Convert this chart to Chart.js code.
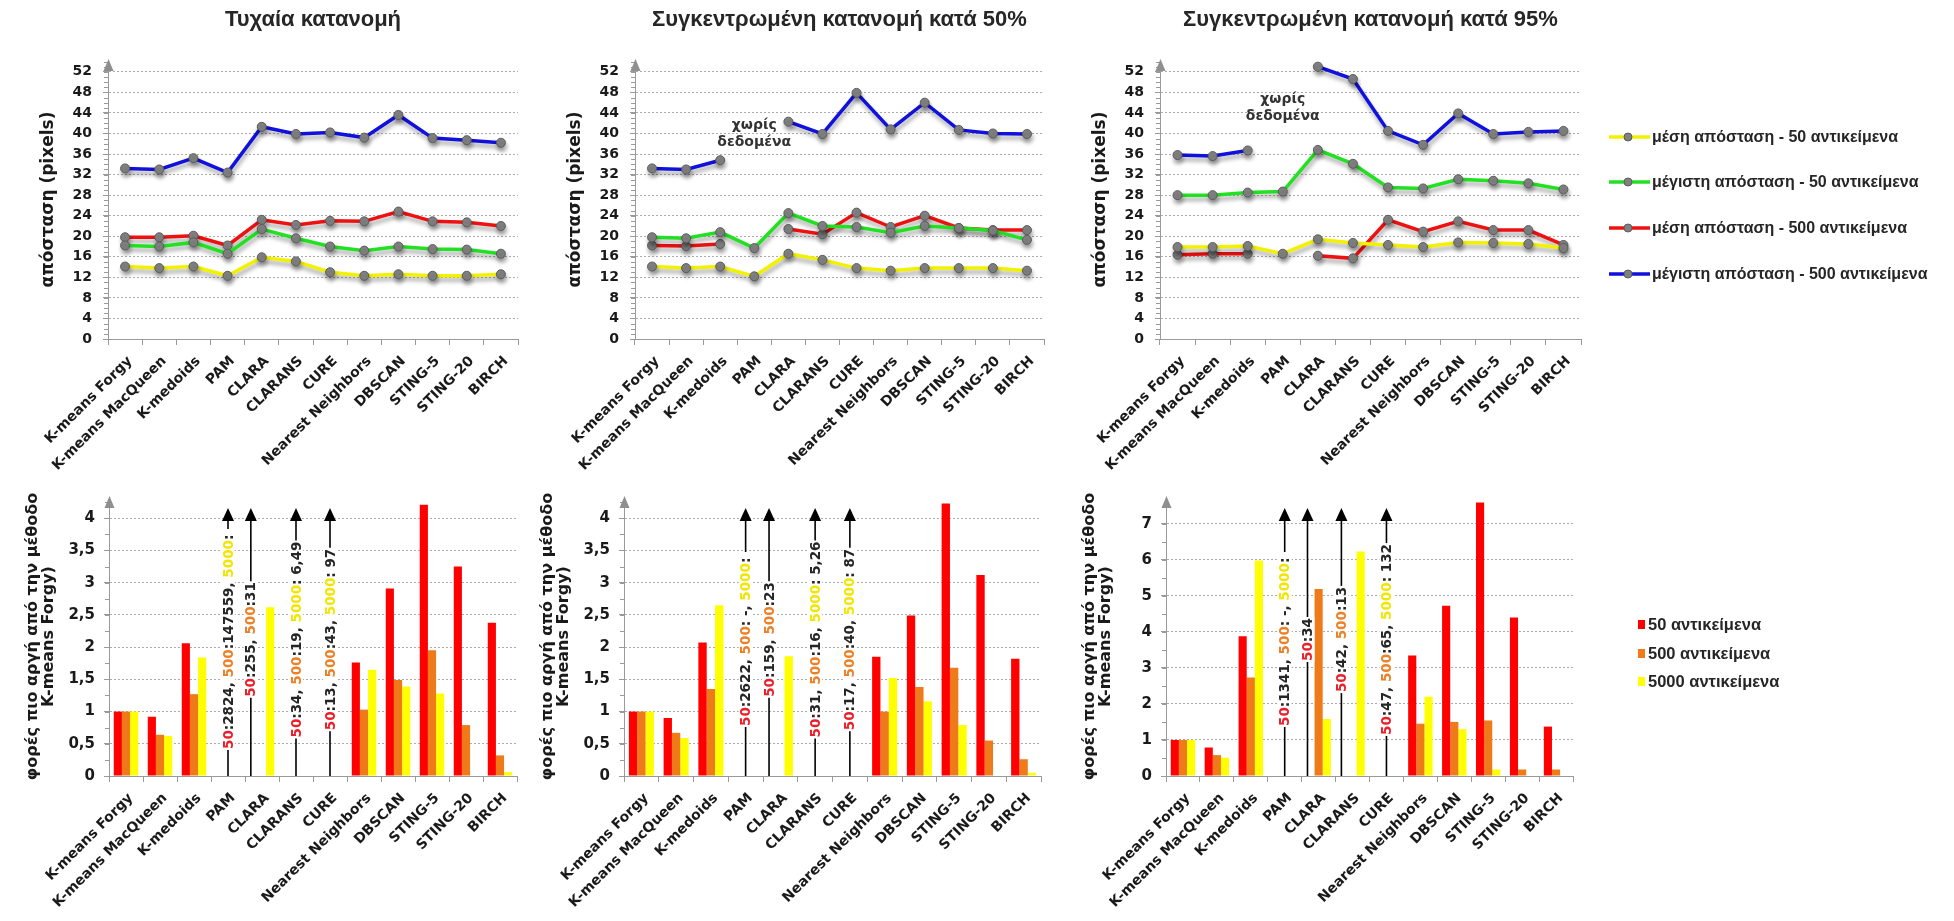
<!DOCTYPE html>
<html>
<head>
<meta charset="utf-8">
<script src="https://cdn.jsdelivr.net/npm/chart.js@4.4.1/dist/chart.umd.min.js"></script>
<style>
  html, body { margin: 0; padding: 0; background: #fff; width: 1954px; height: 921px; overflow: hidden; }
  canvas { position: absolute; }
</style>
</head>
<body>
<canvas id="distRandom"></canvas>
<canvas id="dist50"></canvas>
<canvas id="dist95"></canvas>
<canvas id="speedRandom"></canvas>
<canvas id="speed50"></canvas>
<canvas id="speed95"></canvas>
<script>
// ---------- categories and labels ----------
const methods = ['K-means Forgy', 'K-means MacQueen', 'K-medoids', 'PAM', 'CLARA', 'CLARANS', 'CURE',
  'Nearest Neighbors', 'DBSCAN', 'STING-5', 'STING-20', 'BIRCH'];
const titles = ['Τυχαία κατανομή', 'Συγκεντρωμένη κατανομή κατά 50%', 'Συγκεντρωμένη κατανομή κατά 95%'];
const lineNames = ['μέση απόσταση - 50 αντικείμενα', 'μέγιστη απόσταση - 50 αντικείμενα',
  'μέση απόσταση - 500 αντικείμενα', 'μέγιστη απόσταση - 500 αντικείμενα'];
const barNames = ['50 αντικείμενα', '500 αντικείμενα', '5000 αντικείμενα'];
const distanceAxisTitle = 'απόσταση (pixels)';
const ratioAxisTitle = ['φορές πιο αργή από την μέθοδο', 'K-means Forgy)'];
const noDataNote = ['χωρίς', 'δεδομένα'];

// ---------- tick labels ----------
const distanceTicks = [0, 4, 8, 12, 16, 20, 24, 28, 32, 36, 40, 44, 48, 52];
const ratioTicks = [0, 0.5, 1, 1.5, 2, 2.5, 3, 3.5, 4];
const ratioTicks95 = [0, 1, 2, 3, 4, 5, 6, 7];

// ---------- distances (pixels) ----------
const randMean50  = [14.1, 13.8, 14.1, 12.3, 15.9, 15.1, 13.0, 12.3, 12.6, 12.3, 12.3, 12.6];
const randMax50   = [18.2, 18.0, 18.8, 16.6, 21.4, 19.6, 18.0, 17.2, 18.0, 17.5, 17.4, 16.6];
const randMean500 = [19.8, 19.8, 20.1, 18.2, 23.2, 22.2, 23.0, 22.9, 24.8, 22.9, 22.7, 22.0];
const randMax500  = [33.2, 33.0, 35.2, 32.4, 41.3, 39.9, 40.2, 39.2, 43.6, 39.1, 38.7, 38.2];

const c50Mean50  = [14.1, 13.8, 14.1, 12.2, 16.6, 15.4, 13.8, 13.3, 13.8, 13.8, 13.8, 13.3];
const c50Max50   = [19.8, 19.6, 20.8, 17.7, 24.5, 22.0, 21.8, 20.7, 22.0, 21.6, 21.1, 19.3];
const c50Mean500 = [18.2, 18.1, 18.5, null, 21.4, 20.4, 24.6, 21.8, 24.0, 21.6, 21.2, 21.2];
const c50Max500  = [33.2, 33.0, 34.8, null, 42.3, 39.9, 47.9, 40.8, 46.0, 40.7, 40.0, 39.9];

const c95Mean50  = [17.9, 17.9, 18.1, 16.6, 19.4, 18.7, 18.3, 17.9, 18.8, 18.7, 18.5, 17.7];
const c95Max50   = [28.0, 28.0, 28.5, 28.7, 36.8, 34.1, 29.5, 29.3, 31.1, 30.8, 30.3, 29.1];
const c95Mean500 = [16.4, 16.6, 16.6, null, 16.2, 15.7, 23.2, 20.9, 22.9, 21.2, 21.2, 18.3];
const c95Max500  = [35.8, 35.6, 36.7, null, 53.0, 50.6, 40.5, 37.8, 43.9, 39.9, 40.3, 40.5];

// ---------- slowdown relative to K-means Forgy ----------
const randSlow50   = [1, 0.92, 2.06, null, null, null, null, 1.76, 2.91, 4.21, 3.25, 2.38];
const randSlow500  = [1, 0.64, 1.27, null, null, null, null, 1.03, 1.49, 1.95, 0.79, 0.32];
const randSlow5000 = [1, 0.62, 1.84, null, 2.62, null, null, 1.65, 1.39, 1.28, null, 0.06];

const c50Slow50   = [1, 0.90, 2.07, null, null, null, null, 1.85, 2.49, 4.23, 3.12, 1.82];
const c50Slow500  = [1, 0.67, 1.35, null, null, null, null, 1.00, 1.38, 1.68, 0.55, 0.26];
const c50Slow5000 = [1, 0.59, 2.65, null, 1.86, null, null, 1.52, 1.16, 0.79, null, 0.05];

const c95Slow50   = [1, 0.79, 3.88, null, null, null, null, 3.34, 4.72, 7.59, 4.40, 1.37];
const c95Slow500  = [1, 0.58, 2.73, null, 5.19, null, null, 1.45, 1.50, 1.54, 0.18, 0.18];
const c95Slow5000 = [1, 0.51, 5.98, null, 1.58, 6.23, null, 2.20, 1.30, 0.18, null, null];

// values above the axis range ('-' = no result, '' = left blank)
const randOver50   = [null, null, null, 2824, 255, 34, 13, null, null, null, null, null];
const randOver500  = [null, null, null, 147559, 31, 19, 43, null, null, null, null, null];
const randOver5000 = [null, null, null, '', null, 6.49, 97, null, null, null, null, null];

const c50Over50   = [null, null, null, 2622, 159, 31, 17, null, null, null, null, null];
const c50Over500  = [null, null, null, '-', 23, 16, 40, null, null, null, null, null];
const c50Over5000 = [null, null, null, '', null, 5.26, 87, null, null, null, null, null];

const c95Over50   = [null, null, null, 1341, 34, 42, 47, null, null, null, null, null];
const c95Over500  = [null, null, null, '-', null, 13, 65, null, null, null, null, null];
const c95Over5000 = [null, null, null, '', null, null, 132, null, null, null, null, null];

// ---------- styling ----------
const LINE_COLORS = ['#f2f200', '#22e022', '#ee1111', '#1111dd'];
const BAR_COLORS = ['#ff0000', '#ef7a1a', '#ffff00'];
const TEXT_COLORS = {c50: '#ec1e2a', c500: '#ec8128', c5000: '#f2e600', plain: '#262626'};
const AXIS_GRAY = '#9a9a9a';
const FONT = '"DejaVu Sans", sans-serif';
const NARROW = '"Liberation Sans", Arial, sans-serif';
Chart.defaults.font.family = FONT;
Chart.defaults.color = '#1e1e1e';

const commaNum = v => String(v).replace('.', ',');

// Extra drawing: titles, axis arrow, minor ticks, notes, legends, off-range arrows
const framePlugin = {
  id: 'frame',
  beforeDatasetsDraw(chart, args, o) {
    if (o.shadow) {
      const c = chart.ctx;
      c.save();
      c.shadowColor = 'rgba(0,0,0,0.35)';
      c.shadowBlur = 4;
      c.shadowOffsetX = 1;
      c.shadowOffsetY = 4;
    }
  },
  afterDatasetsDraw(chart, args, o) {
    if (o.shadow) chart.ctx.restore();
  },
  afterDraw(chart, args, o) {
    const ctx = chart.ctx;
    const a = chart.chartArea;
    const xs = chart.scales.x, ys = chart.scales.y;
    ctx.save();

    if (o.title) {
      ctx.font = 'bold 22px ' + NARROW;
      ctx.fillStyle = '#262626';
      ctx.textAlign = 'center';
      ctx.textBaseline = 'middle';
      ctx.fillText(o.title, (a.left + a.right) / 2, o.titleY);
    }

    // minor ticks on the value axis
    ctx.strokeStyle = AXIS_GRAY;
    ctx.lineWidth = 1;
    for (let v = o.minorStep; v < ys.max; v += o.minorStep) {
      const py = Math.round(ys.getPixelForValue(v)) + 0.5;
      ctx.beginPath();
      ctx.moveTo(a.left - 4, py);
      ctx.lineTo(a.left, py);
      ctx.stroke();
    }
    // arrow head at the top of the value axis
    ctx.fillStyle = '#8f8f8f';
    ctx.beginPath();
    ctx.moveTo(a.left + 0.5, a.top - 1);
    ctx.lineTo(a.left - 4.5, a.top + 11);
    ctx.lineTo(a.left + 5.5, a.top + 11);
    ctx.closePath();
    ctx.fill();

    // "no data" notes
    if (o.notes) {
      ctx.font = 'bold 14px ' + FONT;
      ctx.fillStyle = '#333';
      ctx.textAlign = 'center';
      ctx.textBaseline = 'middle';
      for (const n of o.notes) {
        const px = xs.getPixelForValue(methods.indexOf(n.at));
        const py = ys.getPixelForValue(n.value);
        n.lines.forEach((t, k) => ctx.fillText(t, px, py + k * 17));
      }
    }

    // arrows for values beyond the axis
    if (o.over) {
      const [o50, o500, o5000] = o.over;
      const midY = (a.top + a.bottom) / 2 + 3;
      const base = ys.getPixelForValue(0);
      methods.forEach((m, i) => {
        if (o50[i] == null && o500[i] == null && o5000[i] == null) return;
        const anyBar = chart.data.datasets.some(d => d.data[i] != null);
        const px = anyBar ? chart.getDatasetMeta(0).data[i].x - 3 : xs.getPixelForValue(i);
        const tipY = a.top + 11;
        ctx.strokeStyle = '#000';
        ctx.lineWidth = 1.6;
        ctx.beginPath();
        ctx.moveTo(px, base);
        ctx.lineTo(px, tipY + 8);
        ctx.stroke();
        ctx.fillStyle = '#000';
        ctx.beginPath();
        ctx.moveTo(px, tipY);
        ctx.lineTo(px - 6, tipY + 13);
        ctx.lineTo(px + 6, tipY + 13);
        ctx.closePath();
        ctx.fill();

        const parts = [];
        if (o50[i] != null) {
          parts.push({t: '50', c: TEXT_COLORS.c50}, {t: ':' + commaNum(o50[i]), c: TEXT_COLORS.plain});
        }
        if (o500[i] != null) {
          if (parts.length) parts.push({t: ', ', c: TEXT_COLORS.plain});
          parts.push({t: '500', c: TEXT_COLORS.c500},
            {t: o500[i] === '-' ? ': -' : ':' + commaNum(o500[i]), c: TEXT_COLORS.plain});
        }
        if (o5000[i] != null) {
          if (parts.length) parts.push({t: ', ', c: TEXT_COLORS.plain});
          parts.push({t: '5000', c: TEXT_COLORS.c5000}, {t: ': ' + commaNum(o5000[i]), c: TEXT_COLORS.plain});
        }
        ctx.save();
        ctx.translate(px, midY);
        ctx.rotate(-Math.PI / 2);
        ctx.font = 'bold 13.5px ' + FONT;
        ctx.textAlign = 'left';
        ctx.textBaseline = 'middle';
        const w = parts.reduce((s, p) => s + ctx.measureText(p.t).width, 0);
        ctx.fillStyle = '#fff';
        ctx.fillRect(-w / 2 - 1, -7, w + 2, 14);
        let cx = -w / 2;
        for (const p of parts) {
          ctx.fillStyle = p.c;
          ctx.fillText(p.t, cx, 1);
          cx += ctx.measureText(p.t).width;
        }
        ctx.restore();
      });
    }

    // legend for the distance lines
    if (o.lineLegend) {
      ctx.font = 'bold 16px ' + NARROW;
      ctx.textAlign = 'left';
      ctx.textBaseline = 'middle';
      chart.data.datasets.forEach((d, k) => {
        const py = o.lineLegend.y[k];
        const x0 = a.right + 28;
        ctx.strokeStyle = d.borderColor;
        ctx.lineWidth = 3.5;
        ctx.beginPath();
        ctx.moveTo(x0, py);
        ctx.lineTo(x0 + 41, py);
        ctx.stroke();
        ctx.fillStyle = '#808080';
        ctx.strokeStyle = '#5c5c5c';
        ctx.lineWidth = 1;
        ctx.beginPath();
        ctx.arc(x0 + 19, py, 4, 0, Math.PI * 2);
        ctx.fill();
        ctx.stroke();
        ctx.fillStyle = '#262626';
        ctx.fillText(d.label, x0 + 43, py + 1);
      });
    }

    // legend for the bars
    if (o.barLegend) {
      ctx.font = 'bold 16.5px ' + NARROW;
      ctx.textAlign = 'left';
      ctx.textBaseline = 'middle';
      chart.data.datasets.forEach((d, k) => {
        const py = o.barLegend.y[k];
        const x0 = a.right + 65;
        ctx.fillStyle = d.backgroundColor;
        ctx.fillRect(x0, py - 4, 7, 9);
        ctx.fillStyle = '#262626';
        ctx.fillText(d.label, x0 + 10, py + 1);
      });
    }
    ctx.restore();
  }
};
Chart.register(framePlugin);

function place(id, left, top, width, height) {
  const c = document.getElementById(id);
  c.width = width;
  c.height = height;
  c.style.left = left + 'px';
  c.style.top = top + 'px';
  return c;
}

function scalesFor(cfg) {
  return {
    x: {
      type: 'category',
      offset: true,
      afterFit: s => { s.height = cfg.xHeight; },
      grid: {offset: true, drawOnChartArea: false, drawTicks: true, tickLength: 6, tickColor: AXIS_GRAY},
      border: {color: AXIS_GRAY, width: 1},
      ticks: {autoSkip: false, minRotation: 45, maxRotation: 45, padding: 8, labelOffset: 5, color: '#1a1a1a',
        font: {family: FONT, weight: 'bold', size: 14}}
    },
    y: {
      min: 0,
      max: cfg.yMax,
      afterFit: s => { s.width = 108; },
      afterBuildTicks: s => { s.ticks = cfg.ticks.map(v => ({value: v})); },
      grid: {color: '#ababab', lineWidth: 1, tickColor: AXIS_GRAY, tickLength: 5, tickBorderDash: []},
      border: {color: AXIS_GRAY, width: 1, dash: [2, 2]},
      ticks: {padding: cfg.tickPad, color: '#1a1a1a', font: {family: FONT, weight: 'bold', size: cfg.tickSize},
        callback: v => commaNum(v)},
      title: {display: true, text: cfg.yTitle, color: '#1a1a1a',
        font: {family: FONT, weight: 'bold', size: cfg.titleSize, lineHeight: cfg.titleLH},
        padding: {top: cfg.titlePad, bottom: 0}}
    }
  };
}

function distanceChart(id, left, areaRight, series, title, extra) {
  const width = id === 'dist95' ? 1954 - left : 560;
  const padRight = width - (areaRight - left);
  place(id, left, 0, width, 470);
  const datasets = series.map((d, k) => ({
    label: lineNames[k], data: d, borderColor: LINE_COLORS[k], backgroundColor: LINE_COLORS[k],
    borderWidth: 3.5, tension: 0, spanGaps: false,
    pointRadius: 4.5, pointBackgroundColor: '#838383', pointBorderColor: '#5a5a5a', pointBorderWidth: 1
  }));
  return new Chart(document.getElementById(id), {
    type: 'line',
    data: {labels: methods, datasets},
    options: {
      responsive: false, animation: false, devicePixelRatio: 1,
      layout: {padding: {left: 0, top: 60, right: padRight, bottom: 0}},
      plugins: {
        legend: {display: false}, tooltip: {enabled: false},
        frame: Object.assign({shadow: true, title, titleY: 20, minorStep: 1}, extra)
      },
      scales: scalesFor({xHeight: 131, yMax: 54.3, ticks: distanceTicks, tickSize: 14, tickPad: 11,
        yTitle: distanceAxisTitle, titleSize: 17, titleLH: 1.2, titlePad: 38})
    }
  });
}

function speedChart(id, left, areaRight, series, over, yMax, ticks, minorStep, extra) {
  const width = id === 'speed95' ? 1954 - left : 560;
  const padRight = width - (areaRight - left);
  place(id, left, 460, width, 461);
  const datasets = series.map((d, k) => ({
    label: barNames[k], data: d, backgroundColor: BAR_COLORS[k], borderWidth: 0,
    categoryPercentage: 0.72, barPercentage: 1.0
  }));
  return new Chart(document.getElementById(id), {
    type: 'bar',
    data: {labels: methods, datasets},
    options: {
      responsive: false, animation: false, devicePixelRatio: 1,
      layout: {padding: {left: 0, top: 37, right: padRight, bottom: 0}},
      plugins: {
        legend: {display: false}, tooltip: {enabled: false},
        frame: Object.assign({minorStep, over}, extra)
      },
      scales: scalesFor({xHeight: 145, yMax, ticks, tickSize: 15, tickPad: 9,
        yTitle: ratioAxisTitle, titleSize: 16, titleLH: 1.05, titlePad: 23})
    }
  });
}

distanceChart('distRandom', 0, 518, [randMean50, randMax50, randMean500, randMax500], titles[0], {});
distanceChart('dist50', 527, 1044, [c50Mean50, c50Max50, c50Mean500, c50Max500], titles[1],
  {notes: [{at: 'PAM', value: 41.5, lines: noDataNote}]});
distanceChart('dist95', 1052, 1581, [c95Mean50, c95Max50, c95Mean500, c95Max500], titles[2],
  {notes: [{at: 'PAM', value: 46.7, lines: noDataNote}], lineLegend: {y: [137, 182, 228, 274]}});

speedChart('speedRandom', 1, 517, [randSlow50, randSlow500, randSlow5000],
  [randOver50, randOver500, randOver5000], 4.33, ratioTicks, 0.25, {});
speedChart('speed50', 516, 1041, [c50Slow50, c50Slow500, c50Slow5000],
  [c50Over50, c50Over500, c50Over5000], 4.33, ratioTicks, 0.25, {});
speedChart('speed95', 1058, 1573, [c95Slow50, c95Slow500, c95Slow5000],
  [c95Over50, c95Over500, c95Over5000], 7.74, ratioTicks95, 0.5, {barLegend: {y: [164, 193, 221]}});
</script>
</body>
</html>
